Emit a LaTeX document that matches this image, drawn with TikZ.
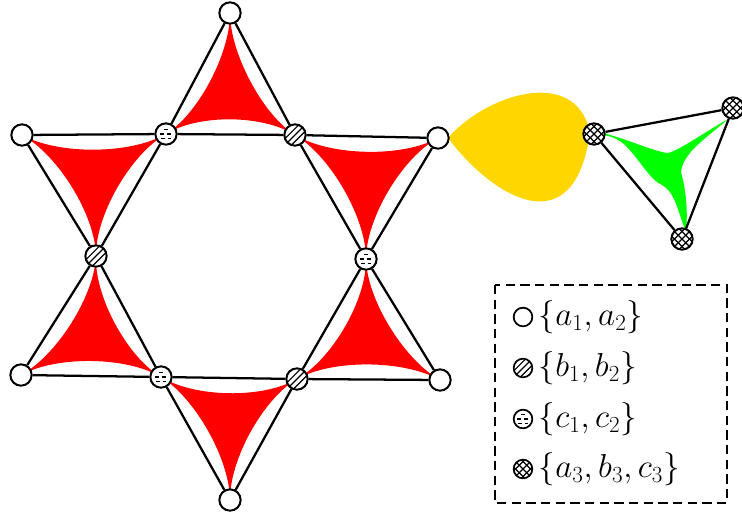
\documentclass[tikz,border=0pt]{standalone}
\usepackage{amsmath,amssymb}
\usepackage{tikz}
\usetikzlibrary{calc,backgrounds}
\definecolor{lobered}{RGB}{255,0,0}
\definecolor{blobgold}{RGB}{255,214,0}
\definecolor{lobegreen}{RGB}{0,255,0}

\begin{document}
\begin{tikzpicture}[x=0.75pt, y=-0.75pt,
	vtx/.style={circle, draw, line width=1.5pt, fill=white, minimum size=16pt, inner sep=0pt},
	hatch/.style={line width=0.9pt},
	bvtx/.style={vtx, path picture={\foreach \c in {-4.8pt,0pt,4.8pt} {\draw[hatch] ([shift={(-10pt,\c-10pt)}]path picture bounding box.center) -- ++(20pt,20pt);}}},
	cvtx/.style={vtx, path picture={\foreach \px/\py in {-1.2/3.6,-4.4/0,0.8/0,-3.4/-3.6,1.2/-3.6} {\draw[hatch] ([shift={(\px*1pt,\py*1pt)}]path picture bounding box.center) -- ++(2.6pt,0pt);}}},
	xvtx/.style={vtx, path picture={\foreach \c in {-11.2pt,-5.6pt,0pt,5.6pt,11.2pt} {\draw[hatch] ([shift={(-10pt,\c-10pt)}]path picture bounding box.center) -- ++(20pt,20pt); \draw[hatch] ([shift={(-10pt,\c+10pt)}]path picture bounding box.center) -- ++(20pt,-20pt);}}},
	edge/.style={line width=1.7pt},
	key/.style={anchor=west, inner sep=0pt, xshift=4pt, font=\fontsize{27}{32}\selectfont}]
	\useasboundingbox (0,0) rectangle (742,515);
	% vertices of the kagome star
	\node[vtx] (top) at (230,13) {};
	\node[vtx] (ul) at (22,135) {};
	\node[cvtx] (c1) at (166,134) {};
	\node[bvtx] (b1) at (295,135) {};
	\node[vtx] (ur) at (438,138) {};
	\node[bvtx] (b2) at (96,256) {};
	\node[cvtx] (c2) at (366,259) {};
	\node[vtx] (ll) at (21,375) {};
	\node[cvtx] (c3) at (161,377) {};
	\node[bvtx] (b3) at (297,379) {};
	\node[vtx] (lr) at (440,380) {};
	\node[vtx] (bot) at (230,500) {};
	% merged triangle
	\node[xvtx] (x1) at (594,134) {};
	\node[xvtx] (x2) at (733,108) {};
	\node[xvtx] (x3) at (682,239) {};
	\begin{scope}[on background layer]
		\foreach \a/\b/\c in {top/c1/b1, ul/c1/b2, b1/ur/c2, b2/ll/c3, c2/b3/lr, c3/b3/bot} {
			\coordinate (g) at ($0.3333*(\a.center)+0.3333*(\b.center)+0.3333*(\c.center)$);
			\fill[lobered] (\a.center) .. controls ($(\a.center)!0.5!(g)$) and ($(\b.center)!0.5!(g)$) .. (\b.center)
				.. controls ($(\b.center)!0.5!(g)$) and ($(\c.center)!0.5!(g)$) .. (\c.center)
				.. controls ($(\c.center)!0.5!(g)$) and ($(\a.center)!0.5!(g)$) .. (\a.center) -- cycle;
			\draw[edge] (\a) -- (\b) -- (\c) -- (\a);
		}
		\fill[blobgold] (448,138) .. controls (485,95) and (575,65) .. (590,132) .. controls (575,245) and (495,200) .. (448,138) -- cycle;
		\fill[lobegreen] (603,133) .. controls (630,140) and (655,152) .. (668,153)
			.. controls (680,150) and (705,132) .. (728,119)
			.. controls (708,137) and (683,152) .. (681,172)
			.. controls (686,190) and (688,210) .. (686,232)
			.. controls (678,212) and (675,192) .. (662,185)
			.. controls (650,180) and (640,160) .. (625,145)
			.. controls (617,138) and (610,136) .. (603,135) -- cycle;
		\draw[edge] (x1) -- (x2) -- (x3) -- (x1);
	\end{scope}
	% legend
	\draw[dash pattern=on 7pt off 4pt, line width=0.8pt] (495,285) rectangle (727,503);
	\node[vtx, line width=1.3pt, minimum size=14pt] (ka) at (523,317) {};
	\node[bvtx, line width=1.3pt, minimum size=14pt] (kb) at (523,368) {};
	\node[cvtx, line width=1.3pt, minimum size=14pt] (kc) at (523,419) {};
	\node[xvtx, line width=1.3pt, minimum size=14pt] (kx) at (523,469) {};
	\node[key] at (ka.east) {$\{a_1,a_2\}$};
	\node[key] at (kb.east) {$\{b_1,b_2\}$};
	\node[key] at (kc.east) {$\{c_1,c_2\}$};
	\node[key] at (kx.east) {$\{a_3,b_3,c_3\}$};
\end{tikzpicture}
\end{document}
